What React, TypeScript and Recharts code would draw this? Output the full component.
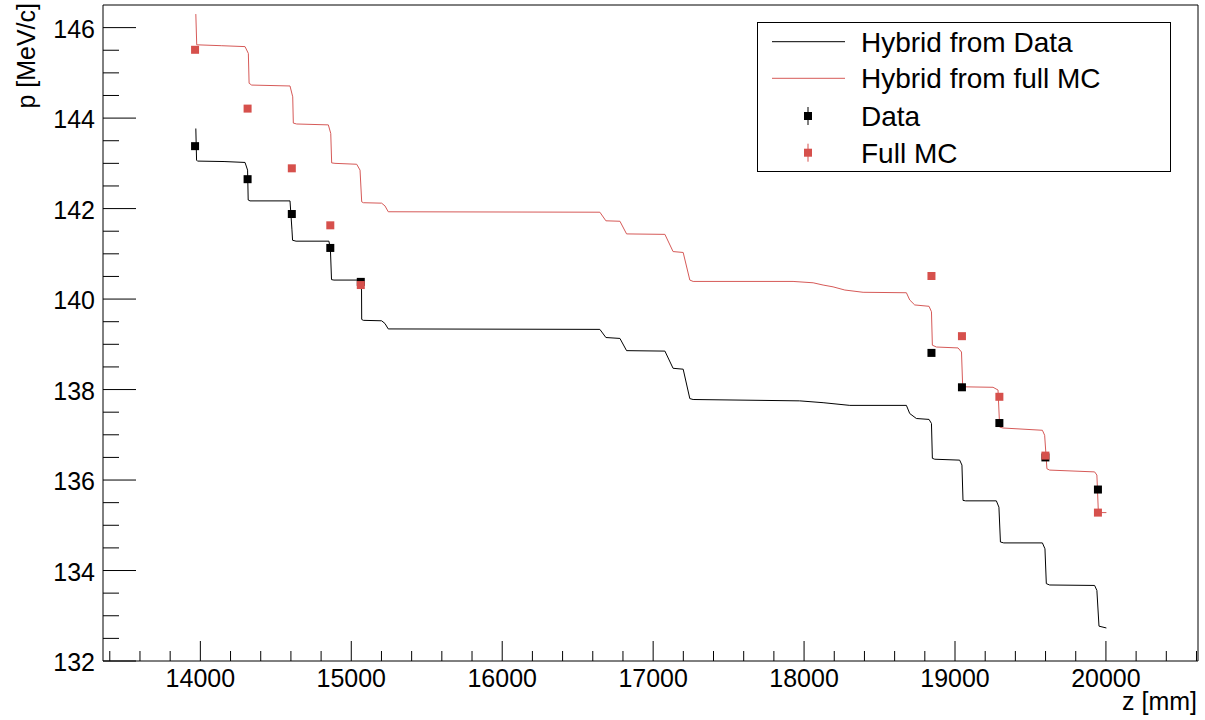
import React from 'react';
import { ComposedChart, Line, Scatter, XAxis, YAxis, Legend, ReferenceArea } from 'recharts';

// Hybrid extrapolation curves (z in mm, p in MeV/c)
const hybridDataZ = [
  13970, 13975, 13981, 14157, 14296, 14313, 14317, 14329, 14594, 14607, 14611, 14634, 14852,
  14862, 14869, 14885, 15054, 15068, 15069, 15080, 15201, 15223, 15245, 16647, 16687, 16780,
  16824, 17078, 17132, 17199, 17243, 17265, 17971, 18126, 18303, 18678, 18700, 18744, 18828,
  18844, 18850, 18866, 19031, 19046, 19053, 19071, 19274, 19291, 19301, 19323, 19579, 19596,
  19605, 19627, 19925, 19940, 19954, 20003,
];
const hybridDataP = [
  143.77, 143.07, 143.05, 143.04, 143.02, 142.85, 142.19, 142.17, 142.17, 141.53, 141.3, 141.28, 141.28,
  141.08, 140.43, 140.42, 140.42, 140.2, 139.55, 139.53, 139.52, 139.46, 139.34, 139.33, 139.15, 139.13,
  138.86, 138.85, 138.47, 138.45, 137.8, 137.78, 137.75, 137.71, 137.65, 137.65, 137.47, 137.36, 137.34,
  137.25, 136.48, 136.46, 136.44, 136.33, 135.55, 135.54, 135.54, 135.4, 134.63, 134.61, 134.61, 134.48,
  133.71, 133.68, 133.67, 133.56, 132.77, 132.73,
];

const hybridMcZ = [
  13970, 13976, 14142, 14296, 14318, 14323, 14340, 14594, 14612, 14616, 14638, 14848, 14864,
  14870, 14892, 15036, 15058, 15069, 15080, 15201, 15223, 15245, 16647, 16687, 16780, 16824,
  17078, 17132, 17199, 17243, 17265, 17927, 18060, 18126, 18192, 18270, 18391, 18678, 18700,
  18733, 18828, 18844, 18850, 18877, 19020, 19043, 19051, 19064, 19252, 19285, 19296, 19318,
  19579, 19594, 19609, 19627, 19925, 19940, 19950, 20003,
];
const hybridMcP = [
  146.3, 145.62, 145.6, 145.58, 145.43, 144.77, 144.73, 144.71, 144.47, 143.89, 143.87, 143.85, 143.66,
  143.01, 143.0, 142.98, 142.85, 142.15, 142.13, 142.12, 142.06, 141.93, 141.92, 141.73, 141.72, 141.44,
  141.43, 141.05, 141.03, 140.42, 140.39, 140.39, 140.36, 140.31, 140.27, 140.2, 140.15, 140.14, 139.98,
  139.87, 139.84, 139.72, 138.98, 138.94, 138.92, 138.83, 138.06, 138.06, 138.05, 137.99, 137.17, 137.15,
  137.1, 136.99, 136.25, 136.22, 136.18, 136.11, 135.28, 135.28,
];

// Measured points at the stations
const stationZ = [13965, 14313, 14606, 14861, 15063, 18844, 19046, 19294, 19599, 19947];
const dataP = [143.38, 142.65, 141.88, 141.13, 140.38, 138.81, 138.05, 137.26, 136.5, 135.79];
const fullMcP = [145.51, 144.21, 142.89, 141.63, 140.31, 140.51, 139.18, 137.84, 136.54, 135.28];

const xMajorTicks = [14000, 15000, 16000, 17000, 18000, 19000, 20000];
const yMajorTicks = [132, 134, 136, 138, 140, 142, 144, 146];

const X_DOMAIN: [number, number] = [13355, 20610];
const Y_DOMAIN: [number, number] = [132, 146.5];

const FONT = '"Liberation Sans", Arial, Helvetica, sans-serif';
const RED_LINE = '#d65a58';
const RED_MARK = '#d6504c';

const xTicks: number[] = [];
for (let v = 13400; v <= 20600; v += 200) xTicks.push(v);
const yTicks: number[] = [];
for (let v = 132; v <= 146; v += 0.5) yTicks.push(v);

const toPoints = (zs: number[], ps: number[]) => zs.map((z, i) => ({ z, p: ps[i] }));

const hybridData = toPoints(hybridDataZ, hybridDataP);
const hybridMc = toPoints(hybridMcZ, hybridMcP);
const dataPoints = toPoints(stationZ, dataP);
const mcPoints = toPoints(stationZ, fullMcP);

// ROOT style: ticks point into the frame
const YTick = ({ x, y, payload }: any) => {
  const v = payload.value;
  const major = yMajorTicks.includes(v);
  const frameX = x + 8;
  return (
    <g>
      <line x1={frameX} y1={y} x2={frameX + (major ? 33 : 16)} y2={y} stroke="#000" strokeWidth={1} />
      {major && (
        <text x={x} y={y + 10} textAnchor="end" fontSize={25} fontFamily={FONT} fill="#000">
          {v}
        </text>
      )}
    </g>
  );
};

const XTick = ({ x, y, payload }: any) => {
  const v = payload.value;
  const major = xMajorTicks.includes(v);
  return (
    <g>
      <line x1={x} y1={y} x2={x} y2={y - (major ? 20 : 10)} stroke="#000" strokeWidth={1} />
      {major && (
        <text x={x} y={y + 26} textAnchor="middle" fontSize={25} fontFamily={FONT} fill="#000">
          {v}
        </text>
      )}
    </g>
  );
};

const Square = ({ cx, cy, fill }: any) => (
  <rect x={cx - 4} y={cy - 4} width={8} height={8} fill={fill} />
);

const legendRows = [
  { label: 'Hybrid from Data', kind: 'line', color: '#000' },
  { label: 'Hybrid from full MC', kind: 'line', color: RED_LINE },
  { label: 'Data', kind: 'marker', color: '#000' },
  { label: 'Full MC', kind: 'marker', color: RED_MARK },
];
const legendRowY = [19.7, 56.3, 94, 130.7];

const renderLegend = () => (
  <svg width={414} height={150} style={{ display: 'block' }}>
    <rect x={0.5} y={0.5} width={413} height={149} fill="#fff" stroke="#000" strokeWidth={1} />
    {legendRows.map((row, i) => {
      const ry = legendRowY[i];
      return (
        <g key={row.label}>
          {row.kind === 'line' ? (
            <line x1={15} x2={88} y1={ry} y2={ry} stroke={row.color} strokeWidth={1} />
          ) : (
            <g>
              <line x1={51} x2={51} y1={ry - 9} y2={ry + 9} stroke={row.color} strokeWidth={1} />
              <rect x={47} y={ry - 4} width={8} height={8} fill={row.color} />
            </g>
          )}
          <text x={104} y={ry + 10} fontSize={28} fontFamily={FONT} fill="#000">
            {row.label}
          </text>
        </g>
      );
    })}
  </svg>
);

const App: React.FC = () => {
  return (
    <div style={{ position: 'absolute', left: 0, top: 0, width: 1205, height: 720, background: '#fff' }}>
      <ComposedChart width={1205} height={720} margin={{ top: 5, right: 7, bottom: 0, left: 0 }}>
        <XAxis
          dataKey="z"
          type="number"
          domain={X_DOMAIN}
          ticks={xTicks}
          interval={0}
          height={59}
          axisLine={false}
          tickLine={false}
          tickSize={0}
          tickMargin={0}
          tick={<XTick />}
          label={() => (
            <text x={1197} y={710} textAnchor="end" fontSize={25} fontFamily={FONT} fill="#000">
              z [mm]
            </text>
          )}
        />
        <YAxis
          dataKey="p"
          type="number"
          domain={Y_DOMAIN}
          ticks={yTicks}
          interval={0}
          width={103}
          axisLine={false}
          tickLine={false}
          tickSize={0}
          tickMargin={8}
          tick={<YTick />}
          label={() => (
            <text
              x={35}
              y={3}
              transform="rotate(-90, 35, 3)"
              textAnchor="end"
              fontSize={25}
              fontFamily={FONT}
              fill="#000"
            >
              p [MeV/c]
            </text>
          )}
        />

        {/* frame */}
        <ReferenceArea
          x1={X_DOMAIN[0]}
          x2={X_DOMAIN[1]}
          y1={Y_DOMAIN[0]}
          y2={Y_DOMAIN[1]}
          fill="none"
          fillOpacity={0}
          stroke="#000"
          strokeWidth={1}
        />

        <Line
          data={hybridData}
          dataKey="p"
          name="Hybrid from Data"
          type="linear"
          stroke="#000"
          strokeWidth={1}
          dot={false}
          activeDot={false}
          isAnimationActive={false}
        />
        <Line
          data={hybridMc}
          dataKey="p"
          name="Hybrid from full MC"
          type="linear"
          stroke={RED_LINE}
          strokeWidth={1}
          dot={false}
          activeDot={false}
          isAnimationActive={false}
        />
        <Scatter data={dataPoints} name="Data" fill="#000" shape={<Square />} isAnimationActive={false} />
        <Scatter data={mcPoints} name="Full MC" fill={RED_MARK} shape={<Square />} isAnimationActive={false} />

        <Legend
          layout="vertical"
          align="center"
          verticalAlign="middle"
          content={renderLegend}
          wrapperStyle={{ left: 757, top: 22, width: 414, height: 150 }}
        />
      </ComposedChart>
    </div>
  );
};

export default App;
